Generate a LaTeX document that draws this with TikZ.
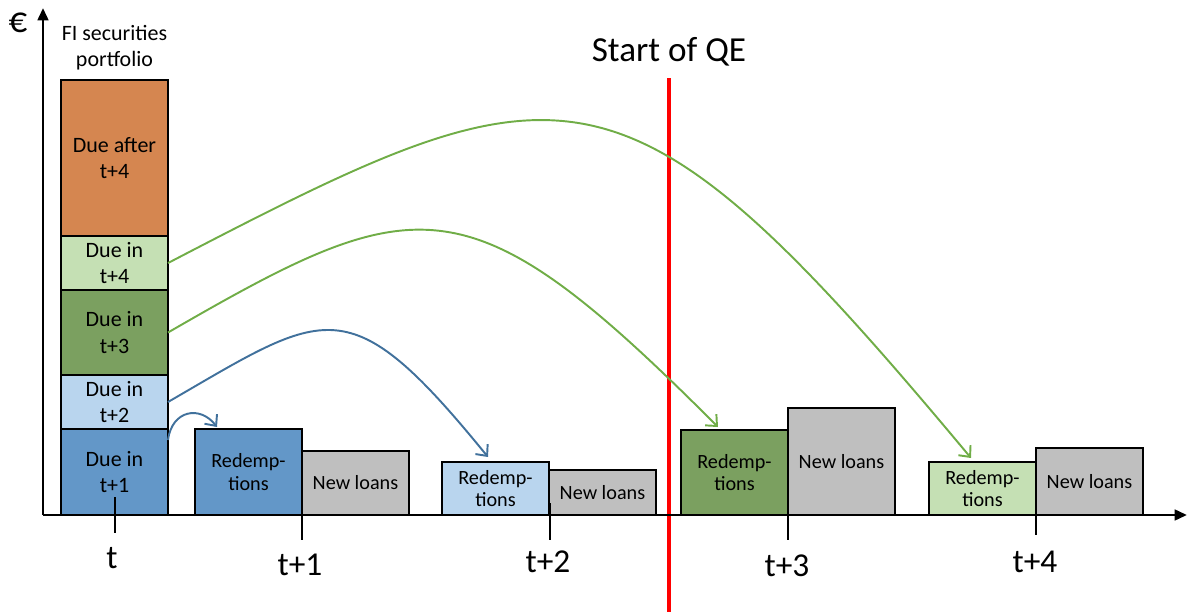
\documentclass[tikz,border=0pt]{standalone}
\usepackage{fontspec}
\setmainfont{Carlito}
\usepackage{tikz}
\usetikzlibrary{positioning,arrows.meta}
\definecolor{dueAfter}{RGB}{213,134,80}
\definecolor{dueLightGreen}{RGB}{197,224,180}
\definecolor{dueGreen}{RGB}{123,160,96}
\definecolor{dueLightBlue}{RGB}{185,213,238}
\definecolor{dueBlue}{RGB}{99,151,200}
\definecolor{loanGray}{RGB}{191,191,191}
\definecolor{flowBlue}{RGB}{65,113,156}
\definecolor{flowGreen}{RGB}{112,173,71}

\begin{document}
\begin{tikzpicture}[x=0.02cm, y=-0.02cm,
    every node/.style={font=\fontsize{12.5}{15}\selectfont, align=center},
    bar/.style={draw, line width=0.8pt, inner sep=0pt, outer sep=0pt, minimum width=2.14cm},
    small/.style={font=\fontsize{11.5}{13}\selectfont},
    flow/.style={line width=1.1pt, -{Straight Barb[length=5pt,width=9pt]}},
    tick/.style={line width=1.6pt},
    period/.style={font=\fontsize{19}{21}\selectfont}]
    \useasboundingbox (0,0) rectangle (1188,612);

    % Portfolio stack
    \node[bar, fill=dueBlue, minimum height=1.72cm, anchor=south west] (due1) at (61,515) {Due in\\t+1};
    \node[bar, fill=dueLightBlue, minimum height=1.08cm, above=0pt of due1] (due2) {Due in\\t+2};
    \node[bar, fill=dueGreen, minimum height=1.70cm, above=0pt of due2] (due3) {Due in\\t+3};
    \node[bar, fill=dueLightGreen, minimum height=1.08cm, above=0pt of due3] (due4) {Due in\\t+4};
    \node[bar, fill=dueAfter, minimum height=3.12cm, above=0pt of due4] (dueLate) {Due after\\t+4};
    \node[font=\fontsize{12.5}{15}\selectfont, above=2pt of dueLate] (portfolio) {FI securities\\portfolio};

    % Periods: redemptions and new loans
    \node[bar, small, fill=dueBlue, minimum height=1.72cm, anchor=south west] (red1) at (195,515) {Redemp-\\tions};
    \node[bar, small, fill=loanGray, minimum height=1.28cm, anchor=south west] (new1) at (red1.south east) {New loans};
    \node[bar, small, fill=dueLightBlue, minimum height=1.06cm, anchor=south west] (red2) at (442,515) {Redemp-\\tions};
    \node[bar, small, fill=loanGray, minimum height=0.90cm, anchor=south west] (new2) at (red2.south east) {New loans};
    \node[bar, small, fill=dueGreen, minimum height=1.70cm, anchor=south west] (red3) at (681,515) {Redemp-\\tions};
    \node[bar, small, fill=loanGray, minimum height=2.14cm, anchor=south west] (new3) at (red3.south east) {New loans};
    \node[bar, small, fill=dueLightGreen, minimum height=1.06cm, anchor=south west] (red4) at (929,515) {Redemp-\\tions};
    \node[bar, small, fill=loanGray, minimum height=1.34cm, anchor=south west] (new4) at (red4.south east) {New loans};

    % Start of QE
    \node[font=\fontsize{20}{22}\selectfont] (qe) at (669,52) {Start of QE};
    \coordinate (qeTop) at (669,78);
    \coordinate (qeBottom) at (669,612);
    \draw[red, line width=2.4pt] (qeTop) -- (qeBottom);

    % Axes
    \coordinate (origin) at (43,515);
    \draw[line width=1.6pt, -{Triangle[length=7pt,width=6pt]}] (origin) -- (1187,515);
    \draw[line width=1.6pt, -{Triangle[length=7pt,width=6pt]}] (origin) -- (43,8);
    \node[font=\fontsize{21}{22}\selectfont] (euro) at (18,23) {€};

    % Time ticks
    \draw[tick] (115,497) -- (115,533);
    \draw[tick] (302,503) -- (302,540);
    \draw[tick] (550,503) -- (550,540);
    \draw[tick] (788,500) -- (788,540);
    \draw[tick] (1036,500) -- (1036,535);
    \node[period] (tT) at (112,558) {t};
    \node[period] (tT1) at (300,565) {t+1};
    \node[period] (tT2) at (548,562) {t+2};
    \node[period] (tT3) at (787,566) {t+3};
    \node[period] (tT4) at (1035,562) {t+4};

    % Maturing securities flow into redemptions
    \draw[flow, flowBlue] ([yshift=-0.22cm]due1.north east) .. controls (172,410) and (200,405) .. ([xshift=0.44cm,yshift=0.04cm]red1.north west);
    \draw[flow, flowBlue] (due2.east) .. controls (327,310) and (348,285) .. ([xshift=0.92cm,yshift=0.1cm]red2.north west);
    \draw[flow, flowGreen] (due3.east) .. controls (418,188) and (468,176) .. ([xshift=0.74cm,yshift=0.06cm]red3.north west);
    \draw[flow, flowGreen] (due4.east) .. controls (568,55) and (621,38) .. ([xshift=0.84cm,yshift=0.08cm]red4.north west);
\end{tikzpicture}
\end{document}
